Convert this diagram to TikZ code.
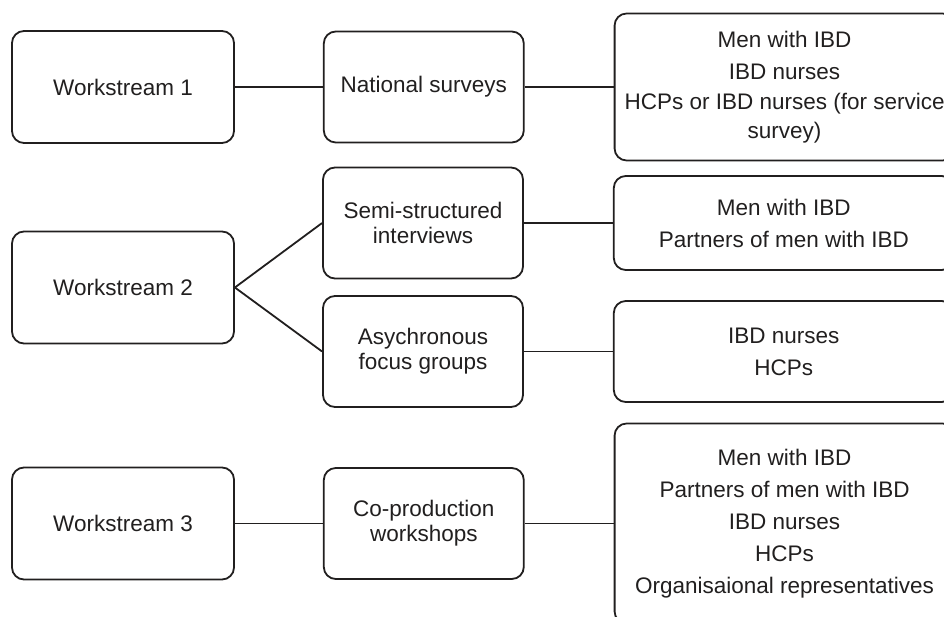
\documentclass[tikz,border=0pt]{standalone}
\usepackage{fontspec}
\setmainfont{Liberation Sans}
\usetikzlibrary{
  positioning
}
\usepackage{xcolor}
\definecolor{inkGrey}{rgb}{0.13,0.12,0.12}
\tikzset{
  box/.style={
    draw=inkGrey,
    text=inkGrey,
    line width=1.8pt,
    rounded corners=12pt,
    align=center,
    inner sep=0pt
  },
  stream/.style={box, minimum width=222pt, minimum height=112pt,
    font=\fontsize{22.5}{25}\selectfont},
  method/.style={box, minimum width=200pt, minimum height=111pt,
    font=\fontsize{22.5}{25}\selectfont},
  people/.style={box, minimum width=340pt,
    font=\fontsize{22.5}{32}\selectfont},
  link/.style={draw=inkGrey, line width=1.8pt}
}

\begin{document}
\begin{tikzpicture}[
      x=1pt, y=-1pt,
      node distance=88pt
      ]
      \useasboundingbox (0,0) rectangle (944,617);
      \clip (0,0) rectangle (944,617);

      % workstreams
      \node[stream] (ws1) at (123,87) {Workstream 1};
      \node[stream] (ws2) at (123,287.5) {Workstream 2};
      \node[stream] (ws3) at (123,523.5) {Workstream 3};

      % methods
      \node[method, right=of ws1] (survey) {National surveys};
      \node[method] (interview) at (423,223) {Semi-structured\\interviews};
      \node[method] (focus) at (423,351.5) {Asychronous\\focus groups};
      \node[method, right=of ws3] (workshop) {Co-production\\workshops};

      % participants
      \node[people, minimum height=147pt, right=89pt of survey] (grp1)
        {Men with IBD\\IBD nurses\\[-2pt]HCPs or IBD nurses (for service\\[-3pt]survey)};
      \node[people, minimum height=94pt, right=89pt of interview] (grp2)
        {Men with IBD\\Partners of men with IBD};
      \node[people, minimum height=101pt, right=89pt of focus] (grp3)
        {IBD nurses\\HCPs};
      \node[people, minimum height=200pt, right=89pt of workshop] (grp4)
        {Men with IBD\\Partners of men with IBD\\IBD nurses\\HCPs\\Organisaional representatives};

      \foreach \a/\b in {ws1/survey, survey/grp1, ws2/interview, ws2/focus,
                         interview/grp2, focus/grp3, ws3/workshop, workshop/grp4}{
        \draw[link] (\a.east) -- (\b.west);
      }
    \end{tikzpicture}
\end{document}
